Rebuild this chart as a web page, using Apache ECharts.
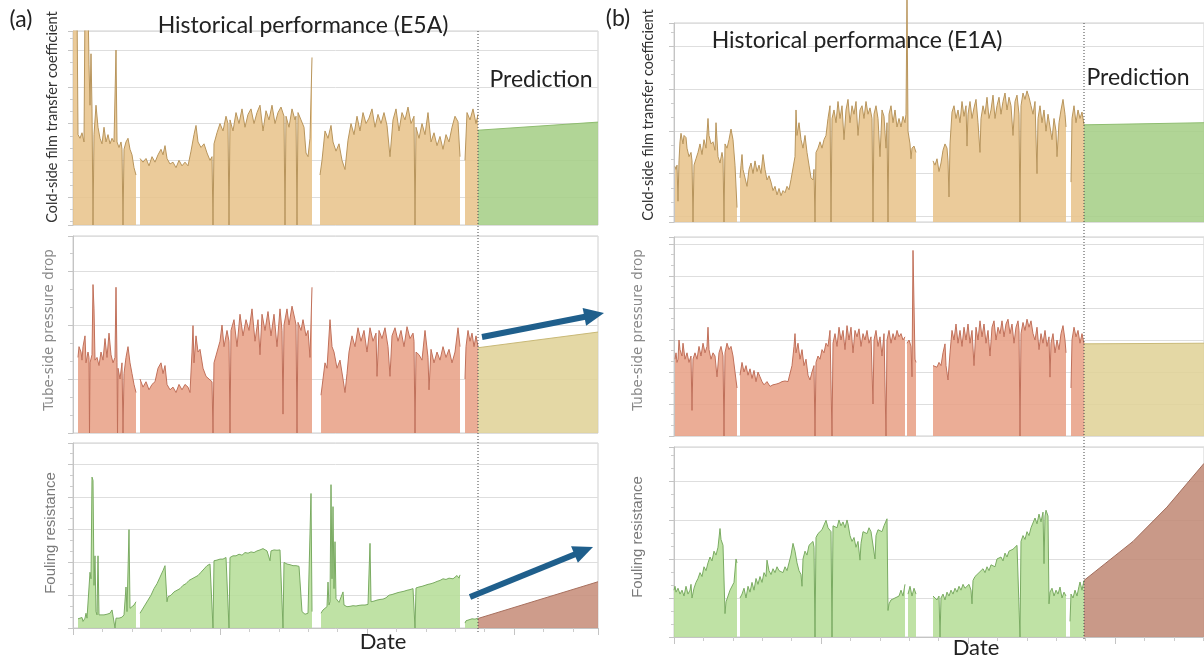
<!DOCTYPE html>
<html>
<head>
<meta charset="utf-8">
<title>Historical performance and prediction</title>
<script src="https://cdn.jsdelivr.net/npm/echarts/dist/echarts.min.js"></script>
<style>
  html, body { margin: 0; padding: 0; background: #fff; }
  #chart { width: 1204px; height: 660px; }
</style>
</head>
<body>
<div id="chart"></div>
<script>
// x = day of record, y = level in gridline units (no scale printed on the original)
// null = no data (gap in the record)

// ---- (a) exchanger E5A ----
var e5aSplitDay = 405;
var e5aLastDay = 525;

var e5aCoeffHist = [
  [0,5.3],[4,5.3],[5,1.7],[7,1.6],[9,1.75],[11,1.5],[12,5.3],[15,5.3],[16,3.6],[17,2.5],[18,3.9],[19,2.4],[20,-0.76],[21,1.7],
  [23,2.5],[25,1.9],[27,1.6],[29,1.45],[31,1.9],[33,1.5],[35,1.7],[37,1.45],[39,1.6],[41,1.5],[43,4.0],[44,1.5],[46,1.35],[48,1.5],
  [49,1.3],[50,-0.76],[51,1.3],[53,1.5],[55,1.6],[57,1.3],[59,1.15],[61,0.8],[63,0.6],[64,null],
  [67,1.05],[70,0.95],[73,1.05],[76,0.85],[79,1.1],[82,0.95],[85,1.15],[88,1.3],[90,1.15],[92,1.4],[94,1.05],[97,0.9],[100,0.95],
  [103,0.8],[106,1.0],[109,0.85],[112,0.95],[115,0.85],[118,1.25],[121,1.7],[123,1.95],[125,1.5],[128,1.35],[131,1.45],[134,1.2],
  [137,1.0],[139,1.1],[140,-0.76],[141,1.45],[144,1.75],[147,2.0],[150,1.8],[153,2.2],[155,2.0],[156,-0.76],[157,2.1],[160,1.8],
  [163,2.3],[166,2.0],[169,2.4],[172,1.9],[175,2.25],[178,2.4],[181,2.0],[184,2.3],[187,2.5],[190,1.8],[193,2.35],[196,2.1],
  [199,2.5],[202,2.0],[205,2.3],[208,2.45],[211,2.2],[212,-0.76],[213,2.2],[216,1.9],[219,2.4],[222,2.1],[223,2.2],[224,-0.76],
  [225,2.3],[228,2.1],[231,1.9],[233,1.2],[235,1.1],[237,1.6],[239,3.8],[240,null],
  [247,0.6],[249,1.0],[252,1.8],[255,1.6],[258,1.95],[260,1.5],[263,1.25],[266,1.45],[269,1.0],[272,0.75],[275,1.55],[278,2.0],
  [281,1.7],[284,2.2],[287,1.8],[290,2.3],[293,2.0],[296,2.15],[299,2.4],[302,1.9],[305,2.25],[308,2.0],[311,2.3],[314,1.95],
  [317,1.1],[320,2.1],[323,2.4],[326,1.8],[329,2.3],[332,2.1],[335,2.45],[338,2.0],[341,2.2],[342,-0.76],[343,1.9],[346,1.6],
  [349,2.0],[352,1.7],[355,2.3],[358,1.5],[361,1.75],[364,1.4],[367,1.65],[370,1.3],[373,1.7],[376,1.5],[379,1.9],[382,2.2],
  [385,2.05],[387,1.1],[388,null],
  [392,1.0],[394,2.3],[397,2.1],[400,2.4],[403,2.0],[405,2.25]
];
var e5aCoeffPred = [[405,1.82],[525,2.04]];

var e5aDropHist = [
  [5,1.4],[6,1.6],[8,1.5],[9,1.35],[10,1.6],[12,1.8],[13,1.3],[15,1.5],[16,1.4],[16.5,0],[17,1.3],[19,1.45],[20,2.75],[21,2.3],
  [22,1.35],[24,1.4],[26,1.25],[28,1.5],[30,1.35],[32,1.75],[34,1.4],[36,1.85],[38,1.45],[40,1.3],[42,1.4],[43,2.7],[44,1.3],
  [44.5,0],[45,1.2],[47,1.0],[49,1.3],[50,0],[51,1.1],[53,1.4],[55,1.6],[57,1.3],[59,1.1],[61,0.9],[63,0.75],[64,null],
  [67,1.0],[70,0.85],[73,0.95],[76,0.8],[79,0.9],[82,0.95],[85,1.2],[88,1.3],[90,1.1],[92,1.25],[94,0.9],[97,0.8],[100,0.85],
  [103,0.75],[106,0.9],[109,0.8],[112,0.9],[115,0.85],[117,0.75],[119,1.5],[120,1.99],[121,1.3],[123,1.8],[125,1.5],[127,1.55],
  [130,1.2],[133,1.05],[136,1.0],[139,0.95],[140,0],[141,1.3],[144,1.5],[147,1.7],[149,2.0],[151,1.6],[154,1.9],[156,1.7],
  [157,0],[158,1.9],[161,2.1],[164,1.6],[167,2.2],[170,1.8],[173,2.1],[176,1.9],[179,2.3],[182,1.7],[185,2.1],[187,1.45],
  [189,2.2],[192,1.9],[195,2.25],[198,1.8],[201,2.2],[204,1.6],[207,2.3],[209,1.9],[210,0.35],[211,2.0],[214,2.3],[216,2.0],
  [219,2.35],[222,2.1],[223,2.0],[224,0],[225,2.05],[228,1.9],[230,2.1],[233,1.8],[235,1.9],[237,1.4],[239,2.7],[240,null],
  [248,0.7],[250,1.0],[252,1.3],[254,1.2],[257,2.1],[259,1.6],[261,1.5],[264,1.2],[267,1.35],[270,1.0],[272,0.75],[274,1.1],
  [276,1.5],[279,1.8],[282,1.6],[285,1.95],[288,1.7],[291,1.9],[294,1.5],[297,1.95],[300,1.7],[303,1.85],[304,1.05],[306,1.9],
  [309,1.75],[312,1.95],[315,1.6],[317,1.05],[319,1.8],[322,1.95],[325,1.7],[328,1.9],[331,1.6],[334,1.97],[337,1.75],[340,1.85],
  [341,1.7],[342,0],[343,1.5],[346,1.45],[349,1.35],[352,1.9],[355,1.4],[356,0.8],[358,1.55],[361,1.3],[364,1.5],[367,1.35],
  [370,1.6],[373,1.4],[376,1.55],[379,1.3],[382,1.5],[385,1.95],[387,1.6],[388,null],
  [392,1.0],[393,1.6],[395,1.9],[397,1.7],[399,1.85],[401,1.6],[403,1.8],[405,1.6]
];
var e5aDropPred = [[405,1.58],[525,1.87]];

var e5aFoulHist = [
  [5,0.28],[7,0.25],[9,0.32],[10,0.2],[12,0.3],[13,0.45],[14,0.3],[16,0.35],[17,1.7],[18,1.5],[19,4.6],[20,4.5],[21,1.3],
  [22,2.2],[23,0.5],[24,0.4],[25,2.2],[26,0.4],[28,0.38],[31,0.4],[34,0.42],[37,0.45],[39,0.55],[41,0.5],[42,0],[43,0.3],
  [46,0.3],[49,0.33],[51,0.4],[53,1.25],[54,0.5],[55,0.55],[56,3.0],[57,0.6],[59,0.65],[61,0.7],[63,0.8],[64,null],
  [67,0.45],[69,0.5],[72,0.7],[75,0.85],[78,1.0],[81,1.2],[84,1.35],[87,1.55],[90,1.75],[92,1.9],[93,1.85],[94,0.8],[95,0.95],
  [98,1.0],[101,1.1],[104,1.15],[107,1.2],[110,1.3],[113,1.35],[116,1.45],[119,1.5],[122,1.55],[125,1.6],[128,1.7],[131,1.8],
  [134,1.9],[137,1.95],[139,2.0],[140,0],[141,2.05],[144,2.07],[147,2.1],[150,2.1],[153,2.15],[155,2.1],[156,0],[157,2.15],
  [160,2.2],[163,2.2],[166,2.25],[169,2.22],[172,2.3],[175,2.28],[178,2.32],[181,2.3],[184,2.35],[187,2.38],[190,2.42],[192,2.45],
  [194,2.35],[196,2.3],[197,2.05],[198,2.35],[201,2.38],[204,2.37],[207,2.38],[209,2.37],[210,0],[211,2.0],[214,1.95],[217,1.93],
  [220,1.9],[223,1.9],[226,1.88],[228,1.85],[229,0.5],[232,0.42],[235,0.45],[237,0.5],[238,4.1],[239,0.5],[240,null],
  [248,0.45],[250,0.55],[252,0.6],[254,0.65],[255,1.4],[256,0.7],[257,0.8],[258,4.37],[259,1.5],[260,3.7],[261,1.2],[262,2.63],
  [263,0.9],[264,0.95],[266,0.78],[268,0.82],[270,1.1],[271,0.7],[274,0.65],[277,0.66],[280,0.68],[283,0.67],[286,0.69],[289,0.7],
  [292,0.7],[295,0.72],[296,0.75],[297,2.58],[298,0.8],[301,0.82],[304,0.85],[307,0.87],[310,0.88],[313,0.92],[316,1.0],[319,1.02],
  [322,1.05],[325,1.08],[328,1.1],[331,1.12],[334,1.15],[337,1.17],[340,1.2],[341,1.2],[342,0],[343,1.22],[346,1.25],[349,1.27],
  [352,1.3],[355,1.33],[358,1.35],[361,1.38],[364,1.42],[367,1.45],[370,1.5],[373,1.48],[376,1.52],[378,1.58],[380,1.5],
  [382,1.55],[384,1.6],[386,1.52],[387,1.62],[388,null],
  [392,0.15],[393,0.22],[396,0.25],[399,0.28],[402,0.27],[405,0.3]
];
var e5aFoulPred = [[405,0.29],[525,1.41]];

// ---- (b) exchanger E1A ----
var e1aSplitDay = 410;
var e1aLastDay = 530;

var e1aCoeffHist = [
  [1,1.17],[2,1.1],[3,1.2],[4,0.35],[5,1.3],[6,1.75],[7,1.95],[9,1.7],[10,1.9],[12,1.85],[13,1.6],[15,1.4],[17,1.5],[18,1.3],
  [19,-0.14],[20,1.2],[22,1.35],[24,1.5],[26,1.7],[28,1.45],[30,1.8],[32,1.6],[34,2.3],[35,1.9],[37,1.7],[39,1.75],[41,1.55],
  [42,2.2],[44,1.4],[46,1.25],[48,1.5],[49,1.35],[50,-0.14],[51,1.7],[53,1.6],[55,1.8],[57,2.05],[59,1.8],[61,1.2],[63,0.2],[64,null],
  [66,0.9],[67,1.2],[68,1.45],[69,1.1],[71,0.9],[73,0.7],[75,1.1],[77,1.25],[79,1.0],[81,1.3],[83,1.05],[85,1.2],[87,1.0],
  [89,1.45],[91,1.1],[93,0.85],[95,0.95],[97,0.8],[99,0.6],[101,0.7],[103,0.5],[105,0.65],[107,0.48],[109,0.6],[111,0.55],
  [113,0.7],[115,0.62],[117,0.86],[119,0.9],[121,1.4],[122,2.5],[123,1.9],[125,2.2],[127,1.8],[129,1.6],[131,1.9],[133,1.5],
  [135,1.2],[137,0.9],[139,0.85],[140,1.1],[141,-0.14],[142,1.5],[144,1.6],[146,1.75],[148,1.6],[150,1.8],[152,1.9],[154,2.3],
  [156,2.6],[157,-0.14],[158,2.3],[160,2.5],[162,2.2],[164,2.7],[166,2.3],[168,2.6],[170,1.8],[172,2.5],[174,2.75],[176,2.2],
  [178,2.6],[180,2.4],[182,2.7],[184,1.9],[186,2.5],[188,2.6],[190,2.3],[192,2.7],[194,2.4],[196,2.55],[198,2.3],[199,-0.14],
  [200,2.4],[202,2.6],[204,2.3],[206,1.4],[208,2.5],[210,2.35],[212,1.6],[213,2.2],[214,-0.14],[215,2.4],[217,2.6],[219,2.2],
  [221,2.5],[223,2.1],[225,2.3],[227,2.1],[229,2.35],[231,2.2],[232,2.4],[233,5.2],[234,2.0],[236,1.7],[237,1.35],[238,1.6],
  [240,1.65],[242,1.5],[243,null],
  [259,1.3],[261,1.2],[263,1.35],[265,1.05],[267,1.25],[269,1.55],[271,1.7],[273,1.6],[274,1.3],[275,0.45],[276,1.7],[278,2.45],
  [280,2.6],[282,2.3],[284,2.5],[286,2.2],[288,2.7],[290,2.35],[292,2.6],[293,1.65],[294,2.4],[296,2.7],[298,2.3],[300,2.55],
  [302,2.75],[304,2.2],[306,1.5],[307,2.3],[309,2.6],[311,2.4],[313,2.8],[315,2.3],[317,2.5],[319,2.85],[321,2.3],[323,2.6],
  [325,2.8],[327,2.4],[329,2.7],[331,2.9],[333,2.5],[335,2.8],[337,2.6],[339,1.9],[341,2.7],[343,2.85],[345,2.4],[346,-0.14],
  [347,2.6],[349,2.9],[351,2.75],[353,2.95],[355,2.8],[357,2.6],[359,2.4],[361,2.7],[363,1.0],[364,2.3],[366,2.6],[368,2.2],
  [370,2.5],[372,2.0],[374,2.4],[376,2.1],[378,1.8],[380,2.3],[382,2.0],[383,1.4],[385,2.2],[387,2.5],[389,2.75],[391,2.4],
  [392,2.1],[393,null],
  [397,0.8],[398,2.3],[400,2.6],[402,2.2],[404,2.5],[406,2.3],[408,2.45],[410,2.15]
];
var e1aCoeffPred = [[410,2.15],[530,2.2]];

var e1aDropHist = [
  [1,2.4],[2,2.6],[3,2.3],[4,2.4],[5,3.0],[6,2.7],[8,2.5],[9,2.9],[11,2.4],[13,2.6],[15,2.3],[17,2.5],[18,0.8],[19,2.4],
  [21,2.6],[23,2.4],[25,2.8],[27,2.5],[29,2.9],[31,2.6],[33,2.8],[34,3.4],[35,2.7],[37,2.4],[39,2.6],[41,2.5],[43,1.85],
  [45,2.6],[47,2.8],[49,2.5],[50,0],[51,2.6],[53,2.9],[55,2.7],[57,2.8],[59,2.5],[61,2.0],[63,1.5],[64,null],
  [66,1.9],[68,2.3],[70,2.0],[72,2.2],[74,1.9],[76,2.1],[78,1.8],[80,2.05],[82,1.7],[84,2.0],[86,1.85],[88,1.7],[90,1.6],
  [93,1.7],[96,1.55],[99,1.6],[102,1.62],[105,1.65],[108,1.7],[111,1.72],[114,1.7],[116,1.75],[118,2.2],[120,2.8],[121,3.2],
  [122,2.6],[124,2.9],[126,2.4],[128,2.7],[130,2.2],[132,2.4],[134,1.9],[136,1.75],[138,2.0],[140,2.2],[141,0],[142,2.3],
  [144,2.5],[146,2.4],[148,2.7],[150,2.6],[152,2.9],[154,2.8],[156,3.3],[158,0],[159,2.9],[161,3.2],[163,2.8],[165,3.4],
  [167,3.0],[169,3.3],[171,2.7],[173,3.45],[175,3.0],[177,3.4],[179,2.6],[181,3.3],[183,3.1],[185,3.35],[187,2.8],[189,3.2],
  [191,3.0],[193,3.3],[195,2.9],[197,3.1],[199,1.0],[200,3.0],[202,3.3],[204,2.8],[206,3.1],[208,2.5],[210,3.2],[212,0],
  [213,3.0],[215,3.3],[217,2.9],[219,3.2],[221,3.0],[223,3.3],[225,3.1],[227,3.2],[229,3.0],[231,3.1],[232,null],
  [233,2.9],[235,3.0],[237,2.8],[238,1.85],[239,5.8],[240,5.85],[241,2.4],[242,2.3],[243,null],
  [259,2.2],[261,2.25],[263,2.15],[265,2.3],[267,2.2],[269,2.6],[271,2.88],[272,2.2],[274,1.75],[276,2.6],[278,3.3],[280,3.0],
  [282,3.5],[284,2.9],[286,3.3],[288,2.8],[290,3.4],[292,3.0],[294,3.5],[296,2.9],[298,3.3],[300,2.2],[302,3.4],[304,3.0],
  [306,3.6],[308,3.1],[310,3.5],[312,2.9],[314,3.3],[316,2.5],[318,3.4],[320,3.6],[322,3.0],[324,3.4],[326,3.2],[328,3.6],
  [330,3.1],[332,3.5],[334,3.65],[336,3.2],[338,3.5],[340,2.9],[342,3.4],[344,3.6],[345,3.3],[346,0],[347,3.2],[349,3.55],
  [351,3.3],[353,3.65],[355,3.4],[357,3.6],[359,3.2],[361,3.0],[363,3.4],[365,2.7],[367,3.2],[369,2.9],[371,3.3],[373,2.8],
  [375,3.1],[376,1.84],[377,2.9],[379,3.2],[381,2.6],[383,3.0],[385,2.7],[387,3.2],[389,3.45],[391,3.0],[392,2.6],[393,null],
  [397,1.5],[398,3.0],[400,3.4],[402,3.1],[404,3.3],[406,2.9],[408,3.2],[410,2.88]
];
var e1aDropPred = [[410,2.88],[530,2.9]];

var e1aFoulHist = [
  [0,1.2],[1,1.3],[2,1.15],[4,1.25],[6,1.1],[8,1.2],[10,1.05],[12,1.3],[14,1.1],[16,1.2],[17,1.35],[18,1.0],[20,1.25],
  [22,1.4],[24,1.5],[26,1.65],[28,1.55],[30,1.8],[32,1.7],[34,1.9],[36,2.05],[38,1.95],[40,2.2],[42,2.1],[44,2.3],[46,2.78],
  [47,2.5],[49,2.35],[50,2.3],[51,0.6],[52,0.9],[54,1.05],[56,1.2],[58,1.15],[60,1.4],[62,2.0],[63,1.9],[64,null],
  [66,1.0],[68,1.1],[70,1.25],[72,1.0],[74,1.3],[76,1.15],[78,1.4],[80,1.2],[82,1.5],[84,1.35],[86,1.55],[88,1.4],[90,1.65],
  [92,1.55],[93,1.97],[95,1.7],[97,1.6],[99,1.75],[101,1.65],[103,1.8],[105,1.7],[107,1.75],[109,1.65],[111,1.8],[113,1.7],
  [115,1.75],[117,2.1],[119,2.4],[121,2.2],[123,1.9],[125,1.7],[127,1.6],[128,1.3],[129,2.0],[131,2.2],[133,2.1],[135,2.35],
  [137,2.3],[139,2.45],[140,2.3],[141,0],[142,2.55],[144,2.65],[146,2.6],[148,2.75],[150,2.7],[152,2.99],[154,2.8],[156,2.85],
  [157,2.7],[158,0],[159,2.85],[161,2.9],[163,2.8],[165,3.0],[167,2.85],[169,2.95],[171,2.8],[173,3.0],[174,2.9],[176,2.6],
  [178,2.45],[180,2.55],[182,2.3],[184,2.45],[186,1.97],[187,2.4],[189,2.7],[191,2.75],[193,2.65],[195,2.8],[197,2.7],
  [199,2.75],[201,2.0],[202,2.6],[204,2.75],[206,2.8],[208,2.7],[210,2.85],[212,2.9],[213,3.03],[214,0.68],[215,0.85],
  [217,0.95],[219,0.9],[221,1.0],[223,0.95],[225,1.05],[227,1.2],[229,1.05],[231,1.35],[232,null],
  [234,1.1],[236,1.3],[238,1.05],[240,1.25],[242,1.1],[243,null],
  [259,1.05],[261,1.1],[263,0.95],[265,1.05],[266,0],[267,1.0],[269,1.1],[271,0.95],[273,1.15],[275,1.05],[277,1.2],[279,1.1],
  [281,1.25],[283,1.15],[285,1.3],[287,1.2],[289,1.35],[291,1.25],[293,1.3],[295,1.35],[297,1.2],[298,0.85],[299,1.45],
  [301,1.55],[303,1.5],[305,1.65],[307,1.6],[309,1.75],[311,1.65],[313,1.8],[315,1.7],[317,1.85],[319,1.9],[321,1.8],[323,2.0],
  [325,1.95],[327,2.05],[329,1.95],[331,2.15],[333,2.05],[335,2.2],[337,2.15],[339,2.25],[341,2.2],[343,2.35],[345,2.3],
  [346,0],[347,2.45],[349,2.6],[351,2.5],[353,2.7],[355,2.6],[357,2.8],[359,2.75],[361,3.05],[363,2.9],[365,3.15],[367,2.95],
  [369,3.2],[370,1.88],[371,3.1],[372,3.25],[373,3.3],[374,3.1],[375,0.85],[376,1.15],[378,1.25],[380,1.05],[382,1.2],
  [384,1.1],[386,1.28],[388,1.0],[390,1.15],[392,1.05],[393,null],
  [396,0.4],[397,1.1],[399,1.0],[401,1.2],[403,1.05],[405,1.3],[406,1.41],[408,1.2],[410,1.45]
];
var e1aFoulPred = [[410,1.45],[459,2.45],[493,3.33],[530,4.45]];

var chart = echarts.init(document.getElementById('chart'), null, { renderer: 'canvas' });

var gridBoxes = [
  { left: 73, top: 31, width: 525, height: 194 },
  { left: 73, top: 236, width: 525, height: 197 },
  { left: 73, top: 443, width: 525, height: 185 },
  { left: 674, top: 23, width: 530, height: 199 },
  { left: 674, top: 237, width: 530, height: 199 },
  { left: 674, top: 447, width: 530, height: 190 }
];
var yRanges = [[-0.76, 4.52], [0, 3.65], [0, 5.64], [-0.14, 4.55], [0, 6.22], [0, 4.87]];
var xMax = [e5aLastDay, e5aLastDay, e5aLastDay, e1aLastDay, e1aLastDay, e1aLastDay];

function toSeriesData(arr) {
  return arr.map(function (p) { return [p[0], p[1] === null ? '-' : p[1]]; });
}

function areaSeries(idx, data, line, fill, clip) {
  return {
    type: 'line',
    xAxisIndex: idx,
    yAxisIndex: idx,
    data: toSeriesData(data),
    symbol: 'none',
    showSymbol: false,
    silent: true,
    clip: clip !== false,
    lineStyle: { color: line, width: 1 },
    areaStyle: { color: fill, opacity: 0.88, origin: 'start' }
  };
}

var grids = gridBoxes.map(function (g) {
  return {
    left: g.left, top: g.top, width: g.width, height: g.height,
    show: true, borderColor: '#cfcfcf', borderWidth: 1
  };
});

var yAxes = yRanges.map(function (r, i) {
  return {
    type: 'value', gridIndex: i, min: r[0], max: r[1], splitNumber: 5,
    axisLabel: { show: false },
    axisLine: { show: true, lineStyle: { color: '#c4c4c4' } },
    axisTick: { show: true, length: 5, lineStyle: { color: '#c4c4c4' } },
    minorTick: { show: true, splitNumber: 3, length: 3, lineStyle: { color: '#cccccc' } },
    splitLine: { show: true, lineStyle: { color: '#dedede', width: 1 } }
  };
});

var xAxes = xMax.map(function (m, i) {
  var bottom = (i === 2 || i === 5);
  return {
    type: 'value', gridIndex: i, min: 0, max: m, interval: 147,
    show: true,
    axisLabel: { show: false },
    axisLine: { show: bottom, lineStyle: { color: '#c4c4c4' } },
    axisTick: { show: bottom, length: 7, lineStyle: { color: '#c4c4c4' } },
    minorTick: { show: bottom, splitNumber: 5, length: 4, lineStyle: { color: '#cccccc' } },
    splitLine: { show: false }
  };
});

var series = [
  areaSeries(0, e5aCoeffHist, '#b8955c', '#e8c48c'),
  areaSeries(0, e5aCoeffPred, '#8fbd70', '#a6cf88'),
  areaSeries(1, e5aDropHist, '#c0705a', '#e8a288'),
  areaSeries(1, e5aDropPred, '#c9b977', '#e0d399'),
  areaSeries(2, e5aFoulHist, '#7aab62', '#b6de98'),
  areaSeries(2, e5aFoulPred, '#a8705e', '#c78e7b'),
  areaSeries(3, e1aCoeffHist, '#b8955c', '#e8c48c', false),
  areaSeries(3, e1aCoeffPred, '#8fbd70', '#a6cf88'),
  areaSeries(4, e1aDropHist, '#c0705a', '#e8a288'),
  areaSeries(4, e1aDropPred, '#c9b977', '#e0d399'),
  areaSeries(5, e1aFoulHist, '#7aab62', '#b6de98'),
  areaSeries(5, e1aFoulPred, '#a06c5b', '#c28b78')
];

chart.setOption({
  backgroundColor: '#ffffff',
  animation: false,
  grid: grids,
  xAxis: xAxes,
  yAxis: yAxes,
  series: series
});

// ---- annotations ----
function txt(text, x, y, size, color, family, rot) {
  return {
    type: 'text', x: x, y: y, rotation: rot || 0, z: 100,
    style: {
      text: text, fontSize: size, fontFamily: family, fill: color,
      align: 'center', verticalAlign: 'middle',
      textAlign: 'center', textVerticalAlign: 'middle'
    }
  };
}

function arrow(x1, y1, x2, y2) {
  var dx = x2 - x1, dy = y2 - y1;
  var len = Math.sqrt(dx * dx + dy * dy);
  var ux = dx / len, uy = dy / len, nx = -uy, ny = ux;
  var headLen = 20, headHalf = 9;
  var bx = x2 - ux * headLen, by = y2 - uy * headLen;
  return [
    { type: 'line', z: 100, shape: { x1: x1, y1: y1, x2: bx + ux * 2, y2: by + uy * 2 },
      style: { stroke: '#1f5f8c', lineWidth: 6 } },
    { type: 'polygon', z: 100,
      shape: { points: [[x2, y2], [bx + nx * headHalf, by + ny * headHalf], [bx - nx * headHalf, by - ny * headHalf]] },
      style: { fill: '#1f5f8c' } }
  ];
}

var splitA = chart.convertToPixel({ xAxisIndex: 0 }, e5aSplitDay);
var splitB = chart.convertToPixel({ xAxisIndex: 3 }, e1aSplitDay);

var titleFont = 'Lato, "Open Sans", sans-serif';
var graphics = [
  { type: 'line', z: 90, shape: { x1: splitA, y1: 31, x2: splitA, y2: 632 },
    style: { stroke: '#444', lineWidth: 1, lineDash: [1, 2] } },
  { type: 'line', z: 90, shape: { x1: splitB, y1: 23, x2: splitB, y2: 641 },
    style: { stroke: '#444', lineWidth: 1, lineDash: [1, 2] } },

  txt('(a)', 21, 20, 23, '#222', titleFont),
  txt('(b)', 618, 19, 23, '#222', titleFont),
  txt('Historical performance (E5A)', 303, 26, 23, '#222', titleFont),
  txt('Historical performance (E1A)', 857, 41, 23, '#222', titleFont),
  txt('Prediction', 541, 80, 23, '#222', titleFont),
  txt('Prediction', 1138, 78, 23, '#222', titleFont),
  txt('Date', 383, 642, 22, '#222', titleFont),
  txt('Date', 976, 648, 22, '#222', titleFont),

  txt('Cold-side film transfer coefficient', 52, 117, 14.5, '#333', titleFont, Math.PI / 2),
  txt('Cold-side film transfer coefficient', 648, 115, 14.5, '#333', titleFont, Math.PI / 2),
  txt('Tube-side pressure drop', 49, 330, 13.5, '#8a8a8a', '"DejaVu Sans", sans-serif', Math.PI / 2),
  txt('Tube-side pressure drop', 638, 330, 13.5, '#8a8a8a', '"DejaVu Sans", sans-serif', Math.PI / 2),
  txt('Fouling resistance', 51, 533, 15, '#7a7a7a', '"Liberation Sans", Arial, sans-serif', Math.PI / 2),
  txt('Fouling resistance', 638, 537, 15, '#7a7a7a', '"Liberation Sans", Arial, sans-serif', Math.PI / 2)
];
graphics = graphics.concat(arrow(482, 337, 604, 313), arrow(470, 597, 593, 547));

chart.setOption({ graphic: graphics });
</script>
</body>
</html>
